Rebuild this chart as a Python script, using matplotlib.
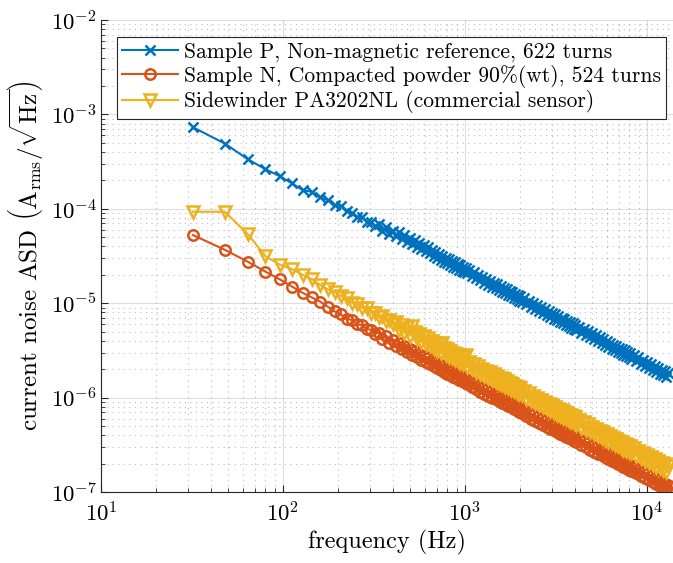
import numpy as np
import matplotlib
matplotlib.use("Agg")
import matplotlib.pyplot as plt

# frequency bins (Hz)
freq = [32, 48, 64, 80, 96, 112, 128, 144, 160, 176, 192, 208, 224, 240, 256,
        272, 288, 304, 320, 336, 352, 368, 384, 400, 416, 432, 448, 464, 480,
        496, 512,
        528, 544, 560, 576, 592, 608, 624, 640, 656, 672, 688, 704, 720, 736,
        752, 768, 784, 800, 816, 832, 848, 864, 880, 896, 912, 928, 944, 960,
        976, 992, 1008, 1024,
        1056, 1088, 1120, 1152, 1184, 1216, 1248, 1280, 1312, 1344, 1376, 1408,
        1440, 1472, 1504, 1536, 1568, 1600, 1632, 1664, 1696, 1728, 1760, 1792,
        1824, 1856, 1888, 1920, 1952, 1984, 2016, 2048,
        2112, 2176, 2240, 2304, 2368, 2432, 2496, 2560, 2624, 2688, 2752, 2816,
        2880, 2944, 3008, 3072, 3136, 3200, 3264, 3328, 3392, 3456, 3520, 3584,
        3648, 3712, 3776, 3840, 3904, 3968, 4032, 4096,
        4224, 4352, 4480, 4608, 4736, 4864, 4992, 5120, 5248, 5376, 5504, 5632,
        5760, 5888, 6016, 6144, 6272, 6400, 6528, 6656, 6784, 6912, 7040, 7168,
        7296, 7424, 7552, 7680, 7808, 7936, 8064, 8192,
        8448, 8704, 8960, 9216, 9472, 9728, 9984, 10240, 10496, 10752, 11008,
        11264, 11520, 11776, 12032, 12288, 12544, 12800, 13056]

# current noise ASD, uA/sqrt(Hz)
sample_p = [730, 490, 335, 263, 222, 186, 158, 151, 132, 124, 110, 106, 94, 91,
            82, 81.5, 73, 73, 65.5, 69.4, 58.8, 63.4, 53.9, 58.3, 52.0, 56.4,
            48.2, 52.6, 45.0, 49.2, 42.2,
            46.2, 39.8, 43.6, 37.5, 41.2, 35.5, 39.1, 33.7, 36.4, 31.5, 34.7,
            30.1, 33.1, 28.8, 31.7, 27.5, 30.4, 26.4, 29.3, 25.4, 28.1, 24.4,
            27.1, 23.6, 26.2, 22.7, 25.2, 22.0, 24.4, 21.3, 23.6, 20.7,
            22.6, 19.5, 21.3, 18.3, 20.1, 17.4, 19.1, 16.5, 18.2, 15.7, 17.3,
            15.0, 16.5, 14.4, 15.9, 13.8, 15.2, 13.2, 14.6, 12.7, 14.1, 12.2,
            13.6, 11.8, 13.0, 11.4, 12.6, 11.0, 12.2, 10.6, 11.8, 10.3,
            11.3, 9.72, 10.6, 9.18, 10.1, 8.70, 9.55, 8.26, 9.08, 7.87, 8.67,
            7.51, 8.28, 7.18, 7.93, 6.88, 7.60, 6.61, 7.30, 6.35, 7.03, 6.12,
            6.77, 5.90, 6.54, 5.70, 6.32, 5.51, 6.11, 5.33, 5.91, 5.16,
            5.65, 4.86, 5.32, 4.59, 5.04, 4.35, 4.78, 4.13, 4.55, 3.94, 4.34,
            3.76, 4.14, 3.59, 3.96, 3.44, 3.80, 3.31, 3.65, 3.18, 3.52, 3.06,
            3.39, 2.95, 3.27, 2.85, 3.16, 2.75, 3.05, 2.66, 2.96, 2.58,
            2.82, 2.43, 2.66, 2.29, 2.52, 2.17, 2.39, 2.07, 2.27, 1.97, 2.17,
            1.88, 2.07, 1.80, 1.98, 1.72, 1.90, 1.65, 1.83]

sample_n = [52.7, 36.7, 27.5, 21.6, 17.9, 15.0, 12.9, 11.5, 10.4, 9.2, 8.2,
            7.6, 6.8, 6.65, 5.95, 5.88, 5.29, 5.26, 4.75, 4.89, 4.14, 4.46,
            3.80, 4.11, 3.50, 3.80, 3.25, 3.54, 3.04, 3.31, 2.85,
            3.11, 2.68, 2.93, 2.53, 2.78, 2.40, 2.63, 2.28, 2.47, 2.14, 2.36,
            2.04, 2.25, 1.95, 2.16, 1.87, 2.07, 1.80, 1.99, 1.73, 1.91, 1.66,
            1.84, 1.61, 1.78, 1.55, 1.72, 1.50, 1.66, 1.45, 1.58, 1.38,
            1.51, 1.30, 1.42, 1.22, 1.34, 1.16, 1.27, 1.10, 1.21, 1.05, 1.16,
            1.00, 1.10, 0.96, 1.06, 0.918, 1.01, 0.881, 0.974, 0.847, 0.937,
            0.816, 0.903, 0.787, 0.872, 0.760, 0.842, 0.734, 0.814, 0.711,
            0.789, 0.688,
            0.738, 0.635, 0.695, 0.600, 0.658, 0.568, 0.624, 0.540, 0.594,
            0.514, 0.566, 0.491, 0.541, 0.469, 0.518, 0.450, 0.497, 0.432,
            0.477, 0.415, 0.459, 0.400, 0.443, 0.385, 0.427, 0.372, 0.413,
            0.360, 0.399, 0.348, 0.386, 0.337,
            0.366, 0.315, 0.345, 0.298, 0.327, 0.282, 0.310, 0.268, 0.295,
            0.255, 0.281, 0.244, 0.269, 0.233, 0.257, 0.223, 0.247, 0.214,
            0.237, 0.206, 0.228, 0.199, 0.220, 0.191, 0.212, 0.185, 0.205,
            0.179, 0.198, 0.173, 0.192, 0.168,
            0.183, 0.158, 0.173, 0.149, 0.163, 0.141, 0.155, 0.134, 0.147,
            0.128, 0.141, 0.122, 0.134, 0.117, 0.129, 0.112, 0.123, 0.107,
            0.119]

sidewinder = [93, 93, 54, 31.5, 25.6, 23, 20, 17.9, 15.6, 14.0, 13.2, 11.9,
              11.3, 10.1, 9.9, 8.9, 8.8, 7.95, 7.95, 7.15, 7.3, 6.5, 6.7, 6.0,
              6.36, 5.22, 5.91, 4.86, 5.51, 4.54, 5.75,
              5.01, 4.14, 4.73, 3.91, 4.47, 3.71, 4.24, 3.52, 3.95, 3.28, 3.77,
              3.14, 3.60, 3.00, 3.83, 3.37, 2.82, 3.24, 2.70, 3.12, 2.60, 3.00,
              2.51, 2.89, 2.42, 2.80, 2.34, 2.70, 2.26, 2.61, 2.80, 2.11,
              2.40, 1.99, 2.27, 1.88, 2.14, 1.78, 2.03, 1.69, 1.93, 1.61, 1.85,
              1.54, 1.76, 1.47, 1.69, 1.41, 1.62, 1.35, 1.56, 1.30, 1.50, 1.25,
              1.44, 1.21, 1.39, 1.17, 1.34, 1.12, 1.30, 1.09, 1.26, 1.06,
              1.18, 0.972, 1.11, 0.918, 1.05, 0.870, 0.995, 0.826, 0.947, 0.787,
              0.903, 0.752, 0.863, 0.719, 0.826, 0.689, 0.792, 0.661, 0.761,
              0.636, 0.732, 0.612, 0.705, 0.590, 0.681, 0.570, 0.658, 0.551,
              0.636, 0.533, 0.616, 0.517,
              0.583, 0.482, 0.550, 0.455, 0.520, 0.431, 0.493, 0.410, 0.469,
              0.390, 0.447, 0.373, 0.428, 0.356, 0.409, 0.341, 0.393, 0.328,
              0.377, 0.315, 0.363, 0.304, 0.350, 0.293, 0.338, 0.282, 0.326,
              0.273, 0.315, 0.264, 0.306, 0.256,
              0.292, 0.241, 0.274, 0.227, 0.260, 0.215, 0.246, 0.205, 0.234,
              0.195, 0.224, 0.186, 0.214, 0.178, 0.205, 0.171, 0.196, 0.164,
              0.189]

labels = ["Sample P, Non-magnetic reference, 622 turns",
          "Sample N, Compacted powder 90%(wt), 524 turns",
          "Sidewinder PA3202NL (commercial sensor)"]

plt.rcParams['font.family'] = 'serif'
plt.rcParams['font.serif'] = ['cmr10']
plt.rcParams['mathtext.fontset'] = 'cm'
plt.rcParams['axes.formatter.use_mathtext'] = True

fig = plt.figure(figsize=(6.73, 5.63), dpi=100)
ax = fig.add_axes([0.1501, 0.1261, 0.8499, 0.8384])

f = np.array(freq)
ax.plot(f, np.array(sample_p) * 1e-6, color="#0072BD", lw=1.5, marker="x",
        ms=7, mew=1.8, label=labels[0])
ax.plot(f, np.array(sample_n) * 1e-6, color="#D95319", lw=1.5, marker="o",
        ms=7.5, mew=1.8, mfc="none", label=labels[1])
ax.plot(f, np.array(sidewinder) * 1e-6, color="#EDB120", lw=1.5, marker="v",
        ms=8.5, mew=1.8, mfc="none", label=labels[2])

ax.set_xscale("log")
ax.set_yscale("log")
ax.set_xlim(10, 13900)
ax.set_ylim(1e-7, 1e-2)

ax.grid(True, which="major", color="#262626", alpha=0.15, lw=0.8)
ax.grid(True, which="minor", color="#262626", alpha=0.3, lw=0.8, ls=(0, (1, 4)))
ax.set_axisbelow(True)

for s in ["top", "right"]:
    ax.spines[s].set_visible(False)
for s in ["left", "bottom"]:
    ax.spines[s].set_color("#262626")
    ax.spines[s].set_linewidth(0.8)

ax.tick_params(which="both", direction="in", colors="#262626", labelsize=16.5)
ax.tick_params(which="major", length=5)
ax.tick_params(which="minor", length=3)
ax.tick_params(axis="x", pad=6.5)
ax.tick_params(axis="y", pad=3)
for t in ax.get_xticklabels() + ax.get_yticklabels():
    t.set_color("black")

ax.set_xlabel("frequency (Hz)", fontsize=17.5, labelpad=3)
ax.set_ylabel(r"current noise ASD $\left(\mathrm{A_{rms}}/\sqrt{\mathrm{Hz}}\right)$",
              fontsize=18, labelpad=4)

leg = ax.legend(loc="upper left", bbox_to_anchor=(0.028, 0.964), borderaxespad=0,
                fontsize=15.5, fancybox=False, framealpha=1, edgecolor="#262626",
                handlelength=2.6, labelspacing=0.12, handletextpad=0.25,
                borderpad=0.25)
leg.get_frame().set_linewidth(0.8)

plt.savefig("out.png", dpi=100)
